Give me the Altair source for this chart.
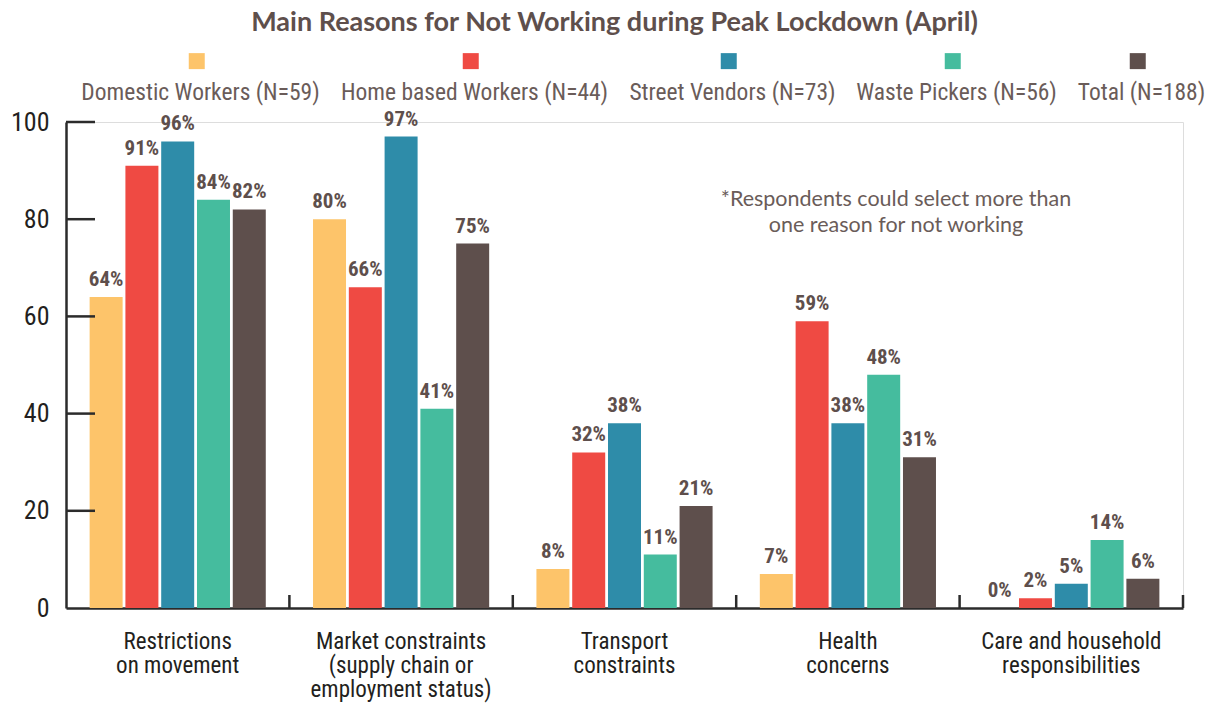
import altair as alt
import pandas as pd

reasons = [
    "Restrictions|on movement",
    "Market constraints|(supply chain or|employment status)",
    "Transport|constraints",
    "Health|concerns",
    "Care and household|responsibilities",
]
groups = [
    "Domestic Workers (N=59)",
    "Home based Workers (N=44)",
    "Street Vendors (N=73)",
    "Waste Pickers (N=56)",
    "Total (N=188)",
]
colors = ["#fdc46a", "#ef4a43", "#2e8ca9", "#45bc9e", "#5e4f4c"]
domestic = [64, 80, 8, 7, 0]
home_based = [91, 66, 32, 59, 2]
street = [96, 97, 38, 38, 5]
waste = [84, 41, 11, 48, 14]
total = [82, 75, 21, 31, 6]
y_labels = [0, 20, 40, 60, 80, 100]
y_ticks = [20, 40, 60, 80, 100]
note_lines = ["*Respondents could select more than", "one reason for not working"]
title_text = "Main Reasons for Not Working during Peak Lockdown (April)"

COND = "Roboto Condensed, Liberation Sans Narrow, DejaVu Sans Condensed, Roboto, sans-serif"
DARK = "#231f20"
BROWN = "#5e4f4c"

rows = []
for g, vals in zip(groups, [domestic, home_based, street, waste, total]):
    for r, v in zip(reasons, vals):
        rows.append({"reason": r, "group": g, "value": v, "label": f"{v}%"})
df = pd.DataFrame(rows)

W, H = 1117, 486

x_enc = alt.X(
    "reason:N",
    sort=reasons,
    scale=alt.Scale(domain=reasons, paddingInner=0, paddingOuter=0),
    axis=alt.Axis(
        title=None, labelExpr="split(datum.label, '|')", ticks=False,
        domainColor="#2b2b2b", domainWidth=2.5, labelAngle=0, labelFontSize=23,
        labelFont=COND, labelColor=DARK, labelPadding=22, labelLineHeight=24,
        labelLimit=0,
    ),
)
xoff_enc = alt.XOffset(
    "group:N", sort=groups,
    scale=alt.Scale(domain=groups, paddingInner=0.078, paddingOuter=0.66),
)
y_enc = alt.Y(
    "value:Q",
    scale=alt.Scale(domain=[0, 100], nice=False),
    axis=alt.Axis(
        title=None, values=y_labels, ticks=False, grid=False,
        domainColor="#2b2b2b", domainWidth=2.5, labelFontSize=26,
        labelFont=COND, labelColor=DARK, labelPadding=17,
    ),
)

base = alt.Chart(df)

bars = base.mark_bar().encode(
    x=x_enc,
    xOffset=xoff_enc,
    y=y_enc,
    color=alt.Color(
        "group:N", sort=groups,
        scale=alt.Scale(domain=groups, range=colors),
        legend=alt.Legend(
            title=None, orient="none", direction="horizontal",
            legendX=111, legendY=-41,
            symbolType="M0,-5H2V-3H0Z", symbolSize=256, symbolStrokeWidth=0,
            labelAlign="center", labelOffset=0, columnPadding=20,
            labelFontSize=23.5, labelFont=COND, labelColor="#6a5c59",
            labelLimit=0,
        ),
    ),
)

labels = base.mark_text(
    dy=-11, baseline="alphabetic", fontWeight="bold", fontSize=21,
    font=COND, color=BROWN,
).encode(
    x=alt.X("reason:N", sort=reasons),
    xOffset=alt.XOffset("group:N", sort=groups),
    y=alt.Y("value:Q"),
    text="label:N",
)

ytick_rules = alt.Chart(pd.DataFrame({"v": y_ticks})).mark_rule(
    color="#2b2b2b", strokeWidth=2.5
).encode(y="v:Q", x=alt.value(0), x2=alt.value(29))

xtick_rules = alt.Chart(pd.DataFrame({"reason": reasons})).mark_rule(
    color="#2b2b2b", strokeWidth=2.5
).encode(
    x=alt.X("reason:N", sort=reasons, bandPosition=1),
    y=alt.value(H), y2=alt.value(H - 13),
)

note = alt.Chart(pd.DataFrame({"a": [0]})).mark_text(
    font="Lato", fontSize=21.5, color="#6a5c59", align="center",
    baseline="middle", lineHeight=26,
).encode(x=alt.value(830), y=alt.value(78), text=alt.value(note_lines))

chart = alt.layer(bars, labels, ytick_rules, xtick_rules, note).properties(
    width=W, height=H,
    title=alt.Title(
        title_text, font="Lato", fontSize=27, fontWeight="bold",
        color=BROWN, anchor="middle", offset=44, dx=-10,
    ),
    padding={"left": 58, "top": 114, "right": 30, "bottom": 96},
    autosize=alt.AutoSizeParams(type="none"),
).configure_view(stroke=None).configure(background="white")

chart.save("out.html", embed_options={"renderer": "svg", "actions": False})
